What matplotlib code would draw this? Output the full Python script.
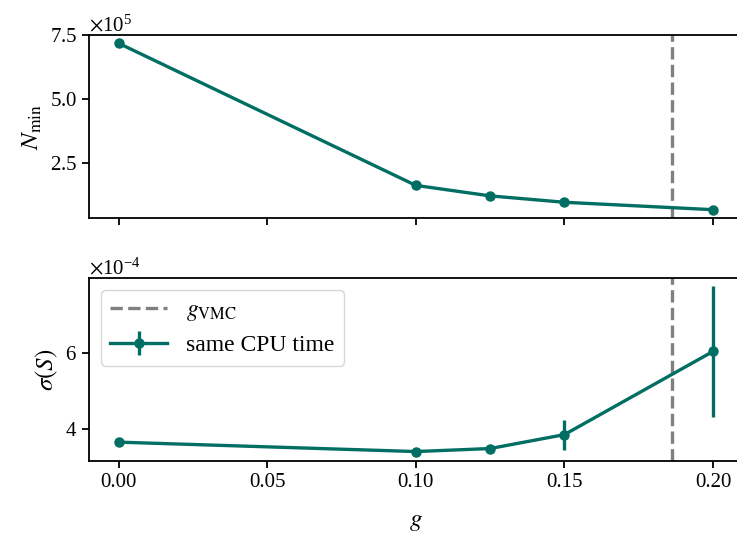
import matplotlib
matplotlib.use("Agg")
import matplotlib.pyplot as plt
from matplotlib.ticker import ScalarFormatter

plt.rcParams['font.family'] = ['Liberation Serif', 'DejaVu Serif']
plt.rcParams['mathtext.fontset'] = 'stix'
plt.rcParams['font.size'] = 15
plt.rcParams['axes.labelsize'] = 18
plt.rcParams['legend.fontsize'] = 17
plt.rcParams['axes.linewidth'] = 1.3
plt.rcParams['xtick.major.width'] = 1.3
plt.rcParams['ytick.major.width'] = 1.3
plt.rcParams['xtick.major.size'] = 5
plt.rcParams['ytick.major.size'] = 5

# data
g = [0.0, 0.1, 0.125, 0.15, 0.2]
n_min = [7.19e5, 1.63e5, 1.22e5, 0.97e5, 0.68e5]
sigma_s = [3.64e-4, 3.39e-4, 3.47e-4, 3.84e-4, 6.05e-4]
sigma_err = [0.03e-4, 0.03e-4, 0.03e-4, 0.40e-4, 1.73e-4]
g_vmc = 0.1862
xticks = [0.0, 0.05, 0.10, 0.15, 0.20]
xticklabels = ['0.00', '0.05', '0.10', '0.15', '0.20']
top_yticks = [2.5e5, 5.0e5, 7.5e5]
bot_yticks = [4e-4, 6e-4]

color = '#006E63'
W, H = 737, 540
fig = plt.figure(figsize=(W / 100, H / 100), dpi=100)

left = 89 / W
width = (742.7 - 89) / W
ax1 = fig.add_axes([left, 1 - 218 / H, width, 183 / H])
ax2 = fig.add_axes([left, 1 - 461 / H, width, 183 / H], sharex=ax1)

for ax in (ax1, ax2):
    ax.axvline(g_vmc, color='grey', ls='--', lw=2.4, label=r'$g_{\mathrm{VMC}}$')
    fmt = ScalarFormatter(useMathText=True)
    fmt.set_powerlimits((0, 0))
    ax.yaxis.set_major_formatter(fmt)

ax1.plot(g, n_min, color=color, lw=2.4, marker='o', ms=6.5)
ax2.errorbar(g, sigma_s, yerr=sigma_err, color=color, lw=2.4, marker='o',
             ms=6.5, elinewidth=2.4, label='same CPU time')

ax1.set_yticks(top_yticks)
ax2.set_yticks(bot_yticks)
ax2.set_xticks(xticks)
ax2.set_xticklabels(xticklabels)
ax1.tick_params(labelbottom=False)
ax1.set_xlim(-0.01, 0.21)

ax1.set_ylabel(r'$N_{\mathrm{min}}$')
ax2.set_ylabel(r'$\sigma(S)$')
ax2.set_xlabel(r'$g$', labelpad=14)
ax2.legend(loc='upper left', handlelength=2.4)

fig.savefig('out.png', dpi=100)
